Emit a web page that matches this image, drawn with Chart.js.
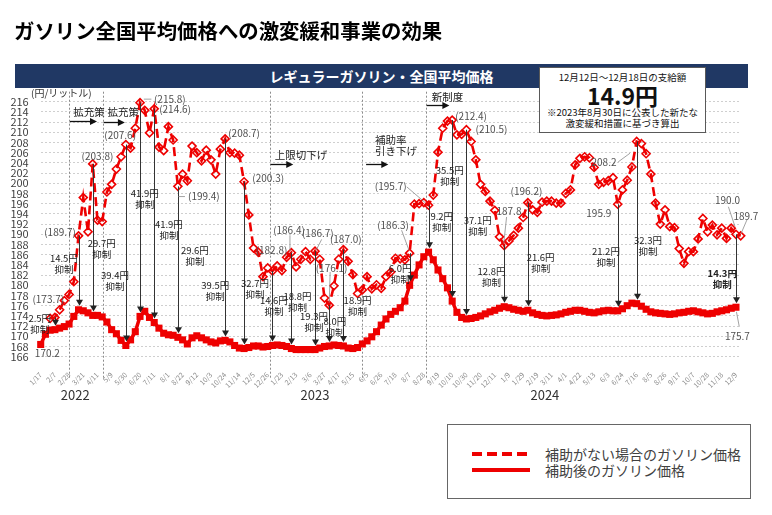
<!DOCTYPE html>
<html lang="ja">
<head>
<meta charset="utf-8">
<title>ガソリン全国平均価格への激変緩和事業の効果</title>
<script src="https://cdn.jsdelivr.net/npm/chart.js@4.4.1/dist/chart.umd.min.js"></script>
<style>
  body { margin: 0; width: 772px; height: 515px; position: relative; overflow: hidden; background: #fff;
         font-family: 'Noto Sans CJK JP', 'Noto Sans', sans-serif; }
  #chart { position: absolute; left: 0; top: 0; }
  #title { position: absolute; left: 14px; top: 16px; font-size: 20.4px; font-weight: bold; line-height: 28px; color: #000; white-space: nowrap; }
  #banner { position: absolute; left: 15px; top: 64px; width: 733px; height: 24px; background: #203864; color: #fff;
            font-size: 14px; font-weight: bold; line-height: 24px; text-align: center; }
  #box { position: absolute; left: 539px; top: 67px; width: 167px; height: 66px; box-sizing: border-box;
         border: 1px solid #595959; background: #fff; color: #111; text-align: center; }
  #box div { position: absolute; left: 0; width: 100%; white-space: nowrap; }
  #legend { position: absolute; left: 447px; top: 424px; width: 304px; height: 75px; box-sizing: border-box;
            border: 1px solid #666; background: #fff; }
  .sample { position: absolute; left: 24px; width: 58px; height: 4px; }
  .ltext { position: absolute; left: 97px; font-size: 14px; line-height: 16px; color: #404040; white-space: nowrap; }
</style>
</head>
<body>
<canvas id="chart" width="772" height="515"></canvas>
<div id="title">ガソリン全国平均価格への激変緩和事業の効果</div>
<div id="banner">レギュラーガソリン・全国平均価格</div>
<div id="box">
  <div style="top:2px;font-size:9.5px;line-height:14px;">12月12日～12月18日の支給額</div>
  <div style="top:13px;font-size:23px;font-weight:bold;line-height:28px;">14.9円</div>
  <div style="top:38px;font-size:9.5px;line-height:13px;">※2023年8月30日に公表した新たな</div>
  <div style="top:49px;font-size:9.5px;line-height:13px;">激変緩和措置に基づき算出</div>
</div>
<div id="legend">
  <div class="sample" style="top:27px;background:repeating-linear-gradient(to right,#ee0000 0 10.5px,transparent 10.5px 15px);"></div>
  <div class="sample" style="top:43px;background:#ee0000;"></div>
  <div class="ltext" style="top:21px;">補助がない場合のガソリン価格</div>
  <div class="ltext" style="top:37px;">補助後のガソリン価格</div>
</div>
<script>
// weekly prices (yen / litre), week 0 = 2022/1/17
const tickLabels = ['1/17','2/7','2/28','3/21','4/11','5/9','5/30','6/20','7/11','8/1','8/22','9/12','10/3','10/24','11/14','12/5',
  '12/26','1/23','2/13','3/6','3/27','4/17','5/15','6/5','6/26','7/18','8/7','8/28','9/19','10/10','10/30','11/20','12/11',
  '1/9','1/29','2/19','3/11','4/1','4/22','5/13','6/3','6/24','7/16','8/5','8/26','9/17','10/7','10/28','11/18','12/9'];
const yearLabels = ['2022', '2023', '2024'];

// price without subsidy (dashed)
const priceWithout = [null, null, 173.5, 173.7, 175.2, 177.0, 178.2, 180.7, 189.7, 197.2,
  190.5, 203.8, 192.8, 192.5, 198.3, 199.8, 202.8, 205.2, 207.6, 206.9,
  210.8, 215.8, 214.3, 209.9, 214.6, 207.1, 206.4, 211.1, 208.5, 199.4,
  201.8, 200.5, 207.3, 206.0, 204.4, 206.5, 204.6, 201.8, 206.7, 208.7,
  206.0, 205.9, 205.5, 200.3, 193.8, 187.3, 186.5, 181.7, 183.4, 182.8,
  183.8, 182.9, 185.5, 186.4, 183.6, 185.1, 186.6, 185.1, 186.7, 185.1,
  177.5, 176.1, 179.9, 185.1, 187.0, 184.7, 182.1, 178.4, 179.1, 181.7,
  179.3, 180.1, 179.4, 181.7, 182.6, 185.3, 185.2, 185.0, 186.3, 195.9,
  196.0, 196.2, 195.7, 197.7, 206.1, 210.8, 212.2, 212.4, 209.5, 209.6,
  210.5, 208.2, 204.6, 199.8, 198.4, 196.5, 194.7, 189.5, 187.8, 188.7,
  189.8, 191.2, 193.3, 196.2, 194.8, 194.3, 196.3, 196.5, 196.5, 196.1,
  196.1, 198.0, 198.7, 203.6, 204.9, 205.2, 205.0, 203.1, 199.8, 200.2,
  200.5, 201.1, 195.9, 198.7, 200.6, 203.2, 208.2, 207.8, 205.8, 201.8,
  196.1, 192.0, 194.8, 191.5, 191.3, 187.2, 184.3, 186.6, 186.6, 189.1,
  193.1, 190.5, 191.8, 189.9, 191.2, 189.2, 191.2, 190.0, 189.7];

// price after subsidy (solid)
const priceWith = [168.4, 170.4, 171.2, 171.3, 171.6, 171.9, 172.4, 173.9, 175.2, 175.0,
  174.6, 174.1, 174.1, 173.8, 172.8, 171.3, 170.5, 169.2, 168.2, 169.3,
  170.9, 173.9, 174.9, 173.7, 172.7, 171.6, 170.6, 170.3, 170.2, 169.8,
  169.3, 168.5, 169.7, 170.1, 169.7, 169.3, 168.9, 168.7, 169.1, 169.2,
  168.9, 168.2, 167.7, 167.6, 167.8, 168.1, 168.1, 167.9, 168.0, 168.2,
  168.3, 168.2, 168.0, 167.6, 167.4, 167.4, 167.4, 167.4, 167.4, 167.7,
  168.0, 168.1, 168.3, 168.2, 168.1, 167.7, 167.6, 167.8, 168.5, 169.1,
  169.9, 170.9, 172.2, 173.4, 174.3, 174.9, 175.6, 176.9, 180.0, 182.0,
  184.0, 185.6, 186.5, 185.0, 183.0, 181.3, 179.5, 176.9, 174.7, 173.7,
  173.4, 173.5, 173.7, 174.0, 174.4, 174.8, 175.1, 175.5, 175.8, 175.6,
  175.3, 175.1, 174.9, 175.1, 174.6, 174.3, 174.1, 174.0, 174.1, 174.2,
  174.4, 174.7, 174.9, 175.1, 175.1, 174.9, 174.7, 174.6, 174.8, 175.0,
  175.1, 175.0, 175.0, 175.4, 176.0, 176.5, 176.4, 175.9, 175.3, 174.8,
  174.6, 174.5, 174.4, 174.3, 174.4, 174.6, 174.7, 174.9, 175.0, 174.8,
  174.6, 174.4, 174.5, 174.8, 175.0, 175.2, 175.5, 175.7];

// weeks with a "抑制" arrow and the amount
const cutWeeks = [3, 8, 11, 18, 21, 24, 29, 39, 43, 49, 53, 58, 61, 64, 78, 82, 87, 90, 98, 103, 122, 126, 147];
const cutYen = ['2.5', '14.5', '29.7', '39.4', '41.9', '41.9', '29.6', '39.5', '32.7', '14.6', '18.8', '19.3',
  '8.0', '18.9', '6.0', '9.2', '35.5', '37.1', '12.8', '21.6', '21.2', '32.3', '14.3'];

// policy changes (week position) and their captions
const policyWeeks = [6.0, 13.2, 48.5, 68.0, 81.5];
const policyText = [['拡充策'], ['拡充策'], ['上限切下げ'], ['補助率', '引き下げ'], ['新制度']];

// ---- layout of the annotations (week, yen) ----
const cutLabelAt = [[-0.2, 172.6], [4.9, 184.3], [12.9, 187.3], [15.7, 181.0], [22.0, 197.1], [27.1, 191.0],
  [32.6, 185.8], [36.9, 179.0], [45.3, 179.3], [49.3, 176.1], [54.3, 176.8], [57.8, 172.9], [62.2, 171.9],
  [67.0, 176.0], [76.0, 182.4], [84.8, 192.6], [86.5, 201.6], [92.4, 191.8], [95.3, 181.7], [105.7, 184.4],
  [119.5, 185.7], [128.4, 187.8], [144.1, 181.4]];

const priceNotes = [
  ['(173.7)', 1.6, 177.3], ['(189.7)', 4.1, 190.5], ['(203.8)', 12.0, 205.4], ['(207.6)', 16.8, 209.5],
  ['(215.8)', 27.3, 216.5], ['(214.6)', 28.4, 214.5], ['(199.4)', 34.5, 197.4], ['(208.7)', 43.0, 209.8],
  ['(200.3)', 48.1, 201.0], ['(182.8)', 48.8, 186.9], ['(186.4)', 52.5, 190.8], ['(186.7)', 58.6, 190.2],
  ['(176.1)', 61.5, 183.3], ['(187.0)', 64.5, 189.0], ['(186.3)', 74.5, 191.8], ['(195.7)', 74.0, 199.5],
  ['(212.4)', 91.0, 213.2], ['(210.5)', 95.3, 210.6], ['187.8', 99.0, 194.6], ['(196.2)', 102.7, 198.5],
  ['195.9', 118.0, 194.2], ['208.2', 119.1, 204.2], ['190.0', 145.2, 196.6], ['189.7', 149.1, 193.6],
  ['170.2', 1.4, 166.7], ['175.7', 147.3, 170.1]];

const leaders = [[21.8, 216.5, 23.4, 216.5], [29.1, 197.4, 30.5, 197.4], [59.4, 189.0, 58.2, 186.8],
  [61.2, 182.6, 61.0, 176.6], [52.7, 189.8, 52.7, 186.6], [76.3, 190.8, 77.9, 186.8], [77.4, 199.3, 81.3, 196.2],
  [98.5, 193.4, 97.9, 188.2], [122.1, 204.2, 124.6, 205.9], [145.4, 195.4, 146.8, 191.5],
  [149.3, 192.8, 148.1, 190.2], [147.1, 174.8, 147.7, 171.9]];

const policyTextAt = [[6.9, 214.0], [14.1, 214.0], [49.5, 205.5], [70.7, 208.5], [82.7, 217.0]];
const policyArrow = [[6.2, 11.9, 212.2], [13.3, 17.8, 212.1], [48.6, 53.4, 203.8], [68.8, 73.5, 203.8], [81.6, 86.4, 215.4]];
const yearAt = [7.3, 58, 106.6];

const FONT = '"Noto Sans CJK JP", "Noto Sans", sans-serif';

function drawText(ctx, str, px, py, size, color, align, bold) {
  ctx.font = (bold ? 'bold ' : '') + size + 'px ' + FONT;
  ctx.fillStyle = color;
  ctx.textAlign = align || 'center';
  ctx.textBaseline = 'middle';
  ctx.fillText(str, px, py);
}

function arrowHead(ctx, x, y, dir) {
  // dir: 'down' or 'right'
  ctx.beginPath();
  if (dir === 'down') { ctx.moveTo(x, y); ctx.lineTo(x - 3.5, y - 6); ctx.lineTo(x + 3.5, y - 6); }
  else { ctx.moveTo(x, y); ctx.lineTo(x - 7, y - 3.5); ctx.lineTo(x - 7, y + 3.5); }
  ctx.closePath();
  ctx.fill();
}

const overlay = {
  id: 'overlay',
  beforeDatasetsDraw(chart) {
    const { ctx, chartArea, scales: { x } } = chart;
    ctx.save();
    ctx.strokeStyle = '#8c8c8c';
    ctx.lineWidth = 1;
    ctx.setLineDash([2, 2]);
    policyWeeks.forEach(w => {
      const px = Math.round(x.getPixelForValue(w)) + 0.5;
      ctx.beginPath();
      ctx.moveTo(px, chartArea.top - 10);
      ctx.lineTo(px, chartArea.bottom + 22);
      ctx.stroke();
    });
    ctx.restore();
  },
  afterDatasetsDraw(chart) {
    const { ctx, chartArea, scales: { x, y } } = chart;
    ctx.save();
    // subsidy arrows
    ctx.strokeStyle = '#333';
    ctx.fillStyle = '#222';
    ctx.lineWidth = 1;
    cutWeeks.forEach(w => {
      const px = Math.round(x.getPixelForValue(w)) + 0.5;
      const top = y.getPixelForValue(priceWithout[w]);
      const bot = y.getPixelForValue(priceWith[w]) - 4;
      ctx.beginPath();
      ctx.moveTo(px, top);
      ctx.lineTo(px, bot - 5);
      ctx.stroke();
      arrowHead(ctx, px, bot, 'down');
    });
    cutWeeks.forEach((w, k) => {
      const px = x.getPixelForValue(cutLabelAt[k][0]);
      const py = y.getPixelForValue(cutLabelAt[k][1]);
      const bold = k === cutWeeks.length - 1;
      drawText(ctx, cutYen[k] + '円', px, py - 5, 9.5, '#222', 'center', bold);
      drawText(ctx, '抑制', px, py + 6, 9.5, '#222', 'center', bold);
    });
    // leader lines and price notes
    ctx.strokeStyle = '#8c8c8c';
    ctx.lineWidth = 0.8;
    leaders.forEach(l => {
      ctx.beginPath();
      ctx.moveTo(x.getPixelForValue(l[0]), y.getPixelForValue(l[1]));
      ctx.lineTo(x.getPixelForValue(l[2]), y.getPixelForValue(l[3]));
      ctx.stroke();
    });
    priceNotes.forEach(n => {
      drawText(ctx, n[0], x.getPixelForValue(n[1]), y.getPixelForValue(n[2]), 10, '#505050', 'center');
    });
    // policy captions with arrows
    ctx.strokeStyle = '#111';
    ctx.fillStyle = '#111';
    ctx.lineWidth = 1.3;
    policyArrow.forEach(a => {
      const x0 = x.getPixelForValue(a[0]), x1 = x.getPixelForValue(a[1]);
      const py = Math.round(y.getPixelForValue(a[2])) + 0.5;
      ctx.beginPath();
      ctx.moveTo(x0, py);
      ctx.lineTo(x1 - 6, py);
      ctx.stroke();
      arrowHead(ctx, x1, py, 'right');
    });
    policyText.forEach((lines, k) => {
      const px = x.getPixelForValue(policyTextAt[k][0]);
      const py = y.getPixelForValue(policyTextAt[k][1]);
      lines.forEach((t, j) => drawText(ctx, t, px, py + j * 11, 10.5, '#222', 'left'));
    });
    // unit and years
    drawText(ctx, '(円/リットル)', 31, chartArea.top - 8, 10, '#333', 'left');
    yearLabels.forEach((t, k) => drawText(ctx, t, x.getPixelForValue(yearAt[k]), chartArea.bottom + 38, 13, '#333', 'center'));
    ctx.restore();
  }
};

new Chart(document.getElementById('chart'), {
  type: 'line',
  data: {
    datasets: [
      {
        label: '補助がない場合のガソリン価格',
        data: priceWithout.map((v, i) => ({ x: i, y: v })),
        borderColor: '#ee0000',
        borderWidth: 2.6,
        borderDash: [9, 5],
        pointStyle: 'rectRot',
        pointRadius: 4,
        pointBorderWidth: 1.6,
        pointBorderColor: '#ee0000',
        pointBackgroundColor: 'rgba(255,255,255,0)',
        tension: 0,
        clip: false
      },
      {
        label: '補助後のガソリン価格',
        data: priceWith.map((v, i) => ({ x: i, y: v })),
        borderColor: '#ee0000',
        borderWidth: 3.5,
        pointStyle: 'rect',
        pointRadius: 5,
        pointBorderWidth: 0,
        pointBackgroundColor: '#ee0000',
        tension: 0,
        clip: false
      }
    ]
  },
  options: {
    responsive: false,
    animation: false,
    events: [],
    layout: { padding: { left: 0, top: 101.7, right: 31.3, bottom: 118.3 } },
    plugins: { legend: { display: false }, tooltip: { enabled: false } },
    scales: {
      x: {
        type: 'linear',
        min: 0,
        max: 148,
        afterBuildTicks: scale => { scale.ticks = tickLabels.map((t, k) => ({ value: k * 3 })); },
        afterFit: scale => { scale.height = 40; },
        grid: { display: false },
        border: { display: false },
        ticks: {
          autoSkip: false,
          minRotation: 45,
          maxRotation: 45,
          padding: 6,
          color: '#8a8a8a',
          font: { family: FONT, size: 7 },
          callback: v => tickLabels[Math.round(v / 3)] || ''
        }
      },
      y: {
        min: 166,
        max: 216,
        afterFit: scale => { scale.width = 40.7; },
        grid: { color: '#cfcfcf', lineWidth: 1, drawTicks: false },
        border: { display: false, dash: [2, 2] },
        ticks: { stepSize: 2, autoSkip: false, padding: 12, color: '#404040', font: { family: FONT, size: 11 } }
      }
    }
  },
  plugins: [overlay]
});
</script>
</body>
</html>
